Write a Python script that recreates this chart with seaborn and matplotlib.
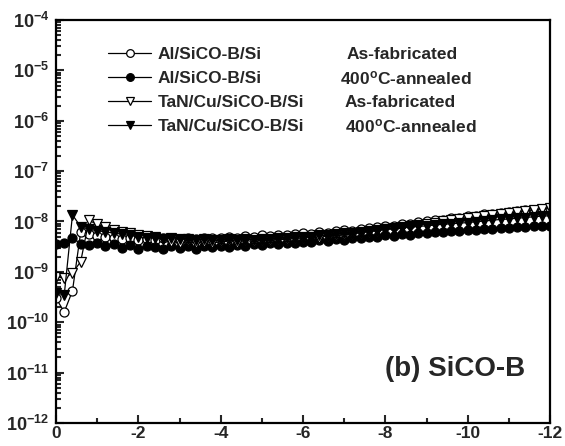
import numpy as np
import pandas as pd
import seaborn as sns
import matplotlib.pyplot as plt
from matplotlib import ticker

# bias sweep (V), 0 -> -12 V
voltage = [0.0, -0.2, -0.4, -0.6, -0.8, -1.0, -1.2, -1.4, -1.6, -1.8,
           -2.0, -2.2, -2.4, -2.6, -2.8, -3.0, -3.2, -3.4, -3.6, -3.8,
           -4.0, -4.2, -4.4, -4.6, -4.8, -5.0, -5.2, -5.4, -5.6, -5.8,
           -6.0, -6.2, -6.4, -6.6, -6.8, -7.0, -7.2, -7.4, -7.6, -7.8,
           -8.0, -8.2, -8.4, -8.6, -8.8, -9.0, -9.2, -9.4, -9.6, -9.8,
           -10.0, -10.2, -10.4, -10.6, -10.8, -11.0, -11.2, -11.4, -11.6, -11.8,
           -12.0]

# Al/SiCO-B/Si as-fabricated (open circles)
al_asfab = [3.0e-10, 1.6e-10, 4.2e-10, 6.2e-9, 5.6e-9, 5.2e-9, 4.9e-9, 4.7e-9, 4.4e-9, 4.6e-9,
            4.3e-9, 4.5e-9, 4.2e-9, 4.6e-9, 4.4e-9, 4.3e-9, 4.7e-9, 4.5e-9, 4.8e-9, 4.6e-9,
            4.8e-9, 5.0e-9, 4.7e-9, 5.1e-9, 4.9e-9, 5.3e-9, 5.1e-9, 5.5e-9, 5.3e-9, 5.7e-9,
            5.9e-9, 5.7e-9, 6.2e-9, 6.0e-9, 6.5e-9, 6.8e-9, 6.6e-9, 7.2e-9, 7.4e-9, 7.9e-9,
            8.3e-9, 8.1e-9, 8.8e-9, 9.1e-9, 9.6e-9, 1.0e-8, 1.05e-8, 1.08e-8, 1.15e-8, 1.2e-8,
            1.28e-8, 1.3e-8, 1.38e-8, 1.42e-8, 1.5e-8, 1.55e-8, 1.6e-8, 1.68e-8, 1.72e-8, 1.8e-8,
            1.88e-8]

# Al/SiCO-B/Si 400C-annealed (filled circles)
al_anneal = [3.5e-9, 3.7e-9, 4.8e-9, 3.6e-9, 3.4e-9, 3.7e-9, 3.2e-9, 3.5e-9, 3.0e-9, 3.4e-9,
             2.9e-9, 3.3e-9, 3.1e-9, 2.9e-9, 3.3e-9, 3.0e-9, 3.2e-9, 2.9e-9, 3.3e-9, 3.1e-9,
             3.3e-9, 3.1e-9, 3.4e-9, 3.2e-9, 3.5e-9, 3.4e-9, 3.7e-9, 3.5e-9, 3.8e-9, 3.7e-9,
             4.0e-9, 3.9e-9, 4.2e-9, 4.1e-9, 4.4e-9, 4.3e-9, 4.7e-9, 4.6e-9, 5.0e-9, 4.9e-9,
             5.3e-9, 5.2e-9, 5.6e-9, 5.5e-9, 5.9e-9, 5.8e-9, 6.2e-9, 6.1e-9, 6.5e-9, 6.4e-9,
             6.9e-9, 6.8e-9, 7.2e-9, 7.1e-9, 7.5e-9, 7.4e-9, 7.8e-9, 7.7e-9, 8.1e-9, 8.0e-9,
             8.3e-9]

# TaN/Cu/SiCO-B/Si as-fabricated (open down triangles)
tan_asfab = [8.0e-10, 7.5e-10, 9.5e-10, 1.6e-9, 1.05e-8, 8.8e-9, 7.8e-9, 6.8e-9, 6.2e-9, 5.8e-9,
             5.5e-9, 5.2e-9, 4.9e-9, 4.4e-9, 4.0e-9, 3.8e-9, 4.1e-9, 3.7e-9, 4.0e-9, 3.8e-9,
             3.9e-9, 4.1e-9, 3.8e-9, 4.2e-9, 4.0e-9, 4.3e-9, 4.1e-9, 4.5e-9, 4.3e-9, 4.7e-9,
             4.6e-9, 4.9e-9, 4.8e-9, 5.2e-9, 5.1e-9, 5.5e-9, 5.6e-9, 6.0e-9, 6.3e-9, 6.6e-9,
             7.0e-9, 7.3e-9, 7.7e-9, 8.1e-9, 8.6e-9, 9.0e-9, 9.5e-9, 1.0e-8, 1.05e-8, 1.1e-8,
             1.16e-8, 1.22e-8, 1.28e-8, 1.34e-8, 1.4e-8, 1.46e-8, 1.52e-8, 1.6e-8, 1.66e-8, 1.74e-8,
             1.82e-8]

# TaN/Cu/SiCO-B/Si 400C-annealed (filled down triangles)
tan_anneal = [3.8e-10, 3.5e-10, 1.35e-8, 7.9e-9, 7.0e-9, 6.6e-9, 6.2e-9, 5.9e-9, 5.6e-9, 5.3e-9,
              5.0e-9, 4.8e-9, 4.7e-9, 4.5e-9, 4.6e-9, 4.4e-9, 4.5e-9, 4.3e-9, 4.4e-9, 4.2e-9,
              4.3e-9, 4.4e-9, 4.2e-9, 4.5e-9, 4.3e-9, 4.5e-9, 4.4e-9, 4.7e-9, 4.6e-9, 4.9e-9,
              5.0e-9, 5.0e-9, 5.3e-9, 5.3e-9, 5.6e-9, 5.8e-9, 5.9e-9, 6.3e-9, 6.4e-9, 6.8e-9,
              7.0e-9, 7.2e-9, 7.5e-9, 7.7e-9, 8.0e-9, 8.2e-9, 8.5e-9, 8.8e-9, 9.0e-9, 9.3e-9,
              9.5e-9, 9.9e-9, 1.02e-8, 1.06e-8, 1.1e-8, 1.12e-8, 1.16e-8, 1.2e-8, 1.24e-8, 1.28e-8,
              1.3e-8]

names = ['Al/SiCO-B/Si', 'Al/SiCO-B/Si', 'TaN/Cu/SiCO-B/Si', 'TaN/Cu/SiCO-B/Si']
states = ['As-fabricated', r'400$^{\mathbf{o}}$C-annealed',
          'As-fabricated', r'400$^{\mathbf{o}}$C-annealed']
state_x = [347, 340, 345, 345]   # px where the second legend column starts
series = [al_asfab, al_anneal, tan_asfab, tan_anneal]
markers = ['o', 'o', 'v', 'v']
faces = ['white', 'black', 'white', 'black']
y_ticks = [1e-12, 1e-11, 1e-10, 1e-9, 1e-8, 1e-7, 1e-6, 1e-5, 1e-4]

sns.set_style('ticks')
plt.rcParams['font.family'] = ['Liberation Sans', 'DejaVu Sans']
plt.rcParams['font.weight'] = 'bold'
plt.rcParams['mathtext.fontset'] = 'custom'
plt.rcParams['mathtext.rm'] = 'Liberation Sans:bold'
plt.rcParams['mathtext.bf'] = 'Liberation Sans:bold'
plt.rcParams['mathtext.it'] = 'Liberation Sans:bold'

W, H = 565, 446
fig = plt.figure(figsize=(W / 100, H / 100), dpi=100)
ax = fig.add_axes([56 / W, 1 - 423 / H, 494 / W, 403 / H])

for i, vals in enumerate(series):
    df = pd.DataFrame({'V': voltage, 'I': vals})
    sns.lineplot(data=df, x='V', y='I', ax=ax, color='black', linewidth=0.9,
                 marker=markers[i], markersize=6.5, markerfacecolor=faces[i],
                 markeredgecolor='black', markeredgewidth=0.9,
                 estimator=None, sort=False, label=names[i])

ax.set_yscale('log')
ax.set_ylim(1e-12, 1e-4)
ax.set_xlim(0, -12)
ax.set_xlabel('')
ax.set_ylabel('')

ax.xaxis.set_major_locator(ticker.MultipleLocator(2))
ax.xaxis.set_minor_locator(ticker.MultipleLocator(1))
ax.xaxis.set_major_formatter(ticker.FuncFormatter(lambda v, p: '%d' % round(v)))
ax.yaxis.set_major_locator(ticker.FixedLocator(y_ticks))
ax.yaxis.set_minor_locator(ticker.LogLocator(base=10, subs=np.arange(2, 10), numticks=200))
ax.yaxis.set_major_formatter(ticker.FuncFormatter(
    lambda v, p: r'$\mathbf{10^{%d}}$' % round(np.log10(v))))
ax.yaxis.set_minor_formatter(ticker.NullFormatter())

ax.tick_params(which='both', direction='in', top=False, right=False,
               labelsize=13, width=1.5)
ax.tick_params(which='major', length=6)
ax.tick_params(axis='y', which='major', pad=5)
ax.tick_params(axis='x', which='major', pad=2, labelsize=12.5)
ax.tick_params(which='minor', length=3.5)
for s in ax.spines.values():
    s.set_linewidth(1.6)
    s.set_color('black')

leg = ax.legend(loc='upper left', bbox_to_anchor=(0.105, 0.933), frameon=False,
                fontsize=12.5, handlelength=2.5, handletextpad=0.35,
                labelspacing=0.5, borderpad=0, borderaxespad=0, markerscale=0.85)
for t in leg.get_texts():
    t.set_fontweight('bold')

ax.text(0.666, 0.134, '(b) SiCO-B', transform=ax.transAxes, fontsize=20,
        fontweight='bold', va='center', ha='left')

# second legend column, aligned to the legend rows
fig.canvas.draw()
for t, s, xp in zip(leg.get_texts(), states, state_x):
    bb = t.get_window_extent()
    yc = (bb.y0 + bb.y1) / 2 / fig.dpi / fig.get_figheight()
    fig.text(xp / W, yc, s, fontsize=12.5, fontweight='bold', va='center', ha='left')

fig.savefig('out.png', dpi=100)
